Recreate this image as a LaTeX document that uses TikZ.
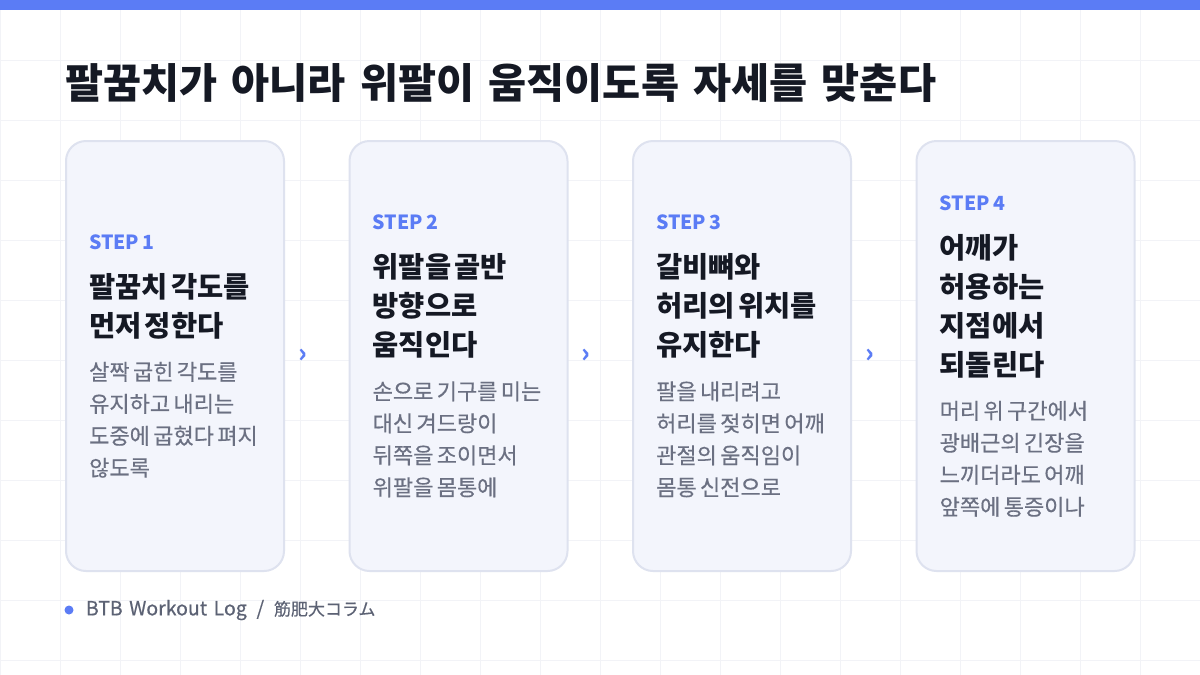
\documentclass[tikz,border=0pt]{standalone}
\usepackage{fontspec}
\setmainfont{Noto Sans CJK KR}[WordSpace=1.5]
\newfontfamily\semifont[FakeBold=0.5, WordSpace=1.5]{Noto Sans CJK KR}
\newfontfamily\jpfont[FakeBold=0.5]{Noto Sans CJK JP}
\usetikzlibrary{positioning}
\definecolor{accent}{HTML}{5B7CF5}
\definecolor{ink}{HTML}{151924}
\definecolor{muted}{HTML}{6B7082}
\definecolor{footgray}{HTML}{5C6274}
\definecolor{cardfill}{HTML}{F3F5FC}
\definecolor{cardline}{HTML}{DEE2EF}
\definecolor{gridline}{HTML}{F2F3F7}
\newcommand{\stepfont}{\fontsize{19.5}{23}\selectfont\bfseries\color{accent}}
\newcommand{\headfont}{\fontsize{28.5}{39}\selectfont\bfseries\color{ink}}
\newcommand{\bodyfont}{\semifont\fontsize{22}{32}\selectfont\color{muted}}

\begin{document}
\begin{tikzpicture}[x=1pt, y=-1pt,
card/.style={rectangle, rounded corners=20pt, draw=cardline, line width=2pt, fill=cardfill, minimum width=218pt, minimum height=430pt},
cardtext/.style={text width=190pt, align=left, inner sep=0pt},
chevron/.style={text=accent, font=\fontsize{26}{26}\selectfont\bfseries, inner sep=0pt},
footer/.style={text=footgray, font=\semifont\fontsize{19.5}{22}\selectfont, inner sep=0pt}
]

%Background
\useasboundingbox (0,0) rectangle (1200,675);
\fill[white] (0,0) rectangle (1200,675);
\draw[gridline, line width=1pt] (0,0) grid[step=60pt] (1200,675);
\fill[accent] (0,0) rectangle (1200,10);

%Title
\node[anchor=base west, inner sep=0pt, text=ink, font=\fontsize{41.4}{50}\selectfont\bfseries] (title) at (65,98) {팔꿈치가 아니라 위팔이 움직이도록 자세를 맞춘다};

%Cards
\node[card] (card1) at (175,356) {};
\node[card] (card2) [right=63.5pt of card1] {};
\node[card] (card3) [right=63.5pt of card2] {};
\node[card] (card4) [right=63.5pt of card3] {};

%Steps
\node[cardtext] (step1) [right=24pt of card1.west] {{\stepfont STEP 1\par}\vspace{9pt}
{\headfont 팔꿈치 각도를\\먼저 정한다\par}\vspace{12pt}
{\bodyfont 살짝 굽힌 각도를\\유지하고 내리는\\도중에 굽혔다 펴지\\않도록\par}};
\node[cardtext] (step2) [right=24pt of card2.west] {{\stepfont STEP 2\par}\vspace{9pt}
{\headfont 위팔을 골반\\방향으로\\움직인다\par}\vspace{12pt}
{\bodyfont 손으로 기구를 미는\\대신 겨드랑이\\뒤쪽을 조이면서\\위팔을 몸통에\par}};
\node[cardtext] (step3) [right=24pt of card3.west] {{\stepfont STEP 3\par}\vspace{9pt}
{\headfont 갈비뼈와\\허리의 위치를\\유지한다\par}\vspace{12pt}
{\bodyfont 팔을 내리려고\\허리를 젖히면 어깨\\관절의 움직임이\\몸통 신전으로\par}};
\node[cardtext] (step4) [right=24pt of card4.west] {{\stepfont STEP 4\par}\vspace{9pt}
{\headfont 어깨가\\허용하는\\지점에서\\되돌린다\par}\vspace{12pt}
{\bodyfont 머리 위 구간에서\\광배근의 긴장을\\느끼더라도 어깨\\앞쪽에 통증이나\par}};

%Arrows
\node[chevron] (next1) [right=13pt of card1] {›};
\node[chevron] (next2) [right=13pt of card2] {›};
\node[chevron] (next3) [right=13pt of card3] {›};

%Footer
\node[circle, fill=accent, minimum size=9pt, inner sep=0pt] (dot) at (69,610) {};
\node[footer] (source) [right=12pt of dot] {BTB Workout Log\enspace/\enspace{\jpfont\fontsize{17}{20}\selectfont 筋肥大コラム}};
\end{tikzpicture}
\end{document}
